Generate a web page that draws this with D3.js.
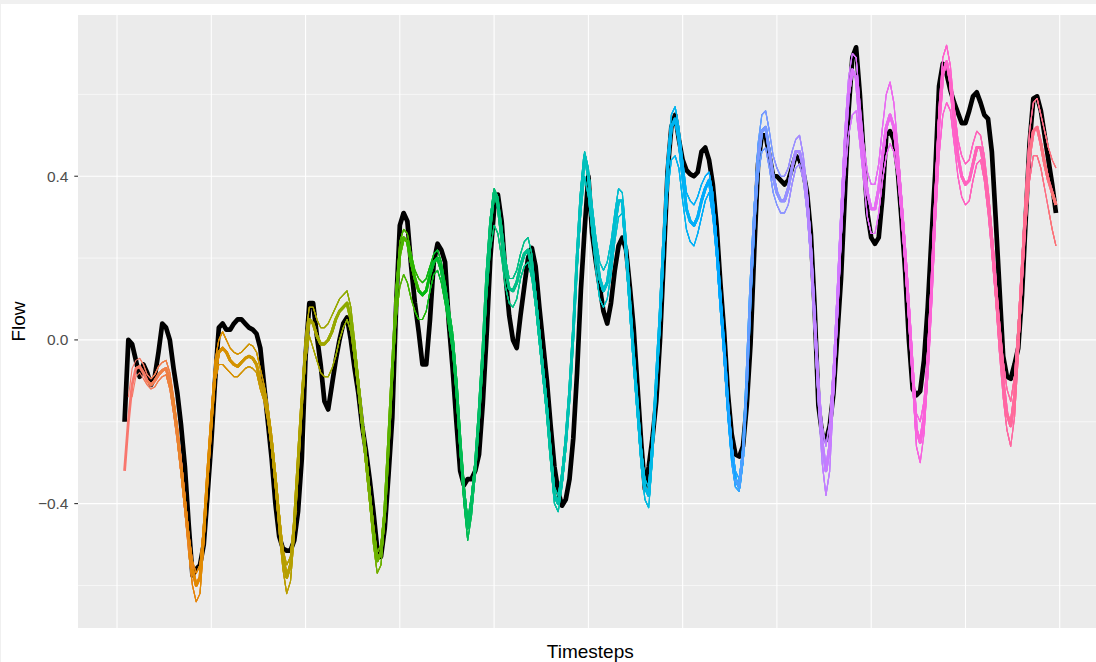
<!DOCTYPE html>
<html>
<head>
<meta charset="utf-8">
<script src="https://cdn.jsdelivr.net/npm/d3@7"></script>
<style>
  body { margin: 0; background: #ffffff; }
  svg { display: block; font-family: "Liberation Sans", Arial, sans-serif; }
</style>
</head>
<body>
<div id="chart"></div>
<script>
// observed flow, hourly timesteps 2..249 (rows of 12)
const firstStep = 2;
const observed = [
  -0.20, 0.00, -0.01, -0.05, -0.09, -0.06, -0.08, -0.11, -0.09, -0.03, 0.04, 0.03,
  0.00, -0.07, -0.13, -0.21, -0.31, -0.45, -0.575, -0.56, -0.55, -0.50, -0.38, -0.25,
  -0.10, 0.03, 0.04, 0.025, 0.025, 0.04, 0.05, 0.05, 0.04, 0.03, 0.025, 0.015,
  -0.02, -0.11, -0.20, -0.29, -0.40, -0.48, -0.51, -0.515, -0.515, -0.49, -0.42, -0.29,
  -0.04, 0.09, 0.09, 0.01, -0.06, -0.15, -0.17, -0.11, -0.05, 0.00, 0.04, 0.055,
  0.00, -0.07, -0.13, -0.21, -0.27, -0.34, -0.42, -0.51, -0.53, -0.46, -0.33, -0.19,
  0.08, 0.28, 0.31, 0.29, 0.18, 0.09, 0.02, -0.06, -0.06, 0.05, 0.19, 0.235,
  0.22, 0.19, 0.04, -0.07, -0.20, -0.32, -0.355, -0.34, -0.34, -0.32, -0.28, -0.155,
  0.01, 0.20, 0.32, 0.355, 0.29, 0.16, 0.06, 0.00, -0.02, 0.06, 0.13, 0.20,
  0.225, 0.18, 0.08, -0.01, -0.10, -0.21, -0.31, -0.37, -0.405, -0.39, -0.34, -0.24,
  -0.08, 0.12, 0.27, 0.40, 0.26, 0.19, 0.13, 0.07, 0.04, 0.09, 0.17, 0.23,
  0.25, 0.22, 0.13, 0.03, -0.11, -0.25, -0.365, -0.31, -0.24, -0.15, 0.00, 0.20,
  0.41, 0.52, 0.55, 0.49, 0.44, 0.415, 0.405, 0.40, 0.41, 0.46, 0.47, 0.44,
  0.38, 0.28, 0.14, 0.02, -0.13, -0.23, -0.28, -0.285, -0.26, -0.16, -0.01, 0.22,
  0.43, 0.50, 0.50, 0.45, 0.40, 0.40, 0.39, 0.38, 0.39, 0.42, 0.45, 0.44,
  0.41, 0.36, 0.26, 0.08, -0.16, -0.23, -0.245, -0.21, -0.13, 0.01, 0.15, 0.35,
  0.56, 0.69, 0.715, 0.60, 0.45, 0.31, 0.25, 0.235, 0.25, 0.35, 0.50, 0.51,
  0.49, 0.42, 0.30, 0.17, 0.00, -0.12, -0.135, -0.125, -0.05, 0.08, 0.25, 0.41,
  0.62, 0.675, 0.65, 0.61, 0.58, 0.555, 0.53, 0.53, 0.56, 0.595, 0.605, 0.58,
  0.55, 0.54, 0.46, 0.30, 0.13, -0.04, -0.09, -0.095, -0.06, -0.02, 0.11, 0.30,
  0.48, 0.59, 0.595, 0.56, 0.50, 0.44, 0.38, 0.31
];

// forecast bundle: centre, upper and lower strands
const forecastMid = [
  -0.32, -0.20, -0.11, -0.07, -0.065, -0.08, -0.10, -0.11, -0.10, -0.085, -0.075, -0.07,
  -0.10, -0.16, -0.23, -0.31, -0.40, -0.49, -0.56, -0.60, -0.58, -0.47, -0.33, -0.20,
  -0.08, -0.03, -0.02, -0.03, -0.05, -0.06, -0.065, -0.055, -0.045, -0.04, -0.045, -0.06,
  -0.10, -0.13, -0.18, -0.25, -0.34, -0.44, -0.53, -0.58, -0.55, -0.45, -0.30, -0.15,
  -0.02, 0.05, 0.04, 0.01, -0.01, -0.01, 0.00, 0.02, 0.05, 0.07, 0.08, 0.09,
  0.05, -0.03, -0.11, -0.20, -0.29, -0.38, -0.47, -0.54, -0.52, -0.42, -0.25, -0.07,
  0.10, 0.21, 0.25, 0.24, 0.19, 0.15, 0.12, 0.11, 0.12, 0.16, 0.19, 0.20,
  0.17, 0.12, 0.06, 0.00, -0.11, -0.25, -0.37, -0.46, -0.40, -0.31, -0.18, -0.03,
  0.15, 0.28, 0.36, 0.33, 0.25, 0.17, 0.125, 0.12, 0.14, 0.18, 0.21, 0.22,
  0.18, 0.10, 0.01, -0.08, -0.17, -0.28, -0.38, -0.40, -0.34, -0.25, -0.13, 0.02,
  0.20, 0.35, 0.45, 0.40, 0.30, 0.22, 0.15, 0.12, 0.14, 0.20, 0.28, 0.34,
  0.34, 0.22, 0.09, -0.04, -0.16, -0.28, -0.36, -0.38, -0.26, -0.10, 0.06, 0.25,
  0.42, 0.52, 0.54, 0.49, 0.40, 0.32, 0.29, 0.28, 0.30, 0.34, 0.37, 0.39,
  0.33, 0.23, 0.10, -0.02, -0.16, -0.27, -0.34, -0.36, -0.28, -0.10, 0.12, 0.30,
  0.44, 0.51, 0.52, 0.46, 0.40, 0.36, 0.34, 0.34, 0.37, 0.42, 0.46, 0.46,
  0.42, 0.34, 0.22, 0.05, -0.12, -0.25, -0.32, -0.26, -0.10, 0.08, 0.28, 0.47,
  0.60, 0.66, 0.64, 0.53, 0.43, 0.36, 0.32, 0.32, 0.37, 0.45, 0.52, 0.55,
  0.52, 0.44, 0.33, 0.21, 0.07, -0.08, -0.22, -0.25, -0.19, -0.06, 0.12, 0.33,
  0.53, 0.65, 0.68, 0.63, 0.53, 0.45, 0.40, 0.38, 0.39, 0.43, 0.47, 0.47,
  0.42, 0.34, 0.24, 0.13, 0.01, -0.10, -0.18, -0.21, -0.14, 0.00, 0.17, 0.33,
  0.45, 0.51, 0.52, 0.48, 0.43, 0.39, 0.36, 0.33
];
const forecastHigh = [
  -0.32, -0.14, -0.07, -0.05, -0.045, -0.06, -0.085, -0.095, -0.085, -0.065, -0.055, -0.05,
  -0.08, -0.14, -0.21, -0.29, -0.38, -0.47, -0.54, -0.57, -0.55, -0.45, -0.31, -0.18,
  -0.05, 0.00, 0.02, 0.00, -0.02, -0.03, -0.035, -0.03, -0.02, -0.01, -0.015, -0.03,
  -0.07, -0.11, -0.16, -0.23, -0.32, -0.42, -0.51, -0.55, -0.53, -0.43, -0.28, -0.13,
  0.01, 0.08, 0.08, 0.05, 0.03, 0.03, 0.04, 0.06, 0.08, 0.10, 0.11, 0.12,
  0.08, 0.00, -0.09, -0.18, -0.27, -0.36, -0.45, -0.52, -0.50, -0.40, -0.23, -0.05,
  0.13, 0.24, 0.27, 0.26, 0.21, 0.17, 0.15, 0.14, 0.15, 0.18, 0.21, 0.22,
  0.19, 0.14, 0.08, 0.02, -0.09, -0.23, -0.35, -0.44, -0.38, -0.29, -0.16, -0.01,
  0.17, 0.30, 0.37, 0.35, 0.28, 0.20, 0.15, 0.15, 0.17, 0.21, 0.24, 0.25,
  0.21, 0.12, 0.03, -0.06, -0.15, -0.26, -0.36, -0.38, -0.32, -0.23, -0.11, 0.04,
  0.22, 0.37, 0.46, 0.42, 0.33, 0.25, 0.19, 0.17, 0.19, 0.24, 0.31, 0.37,
  0.36, 0.24, 0.11, -0.02, -0.14, -0.26, -0.34, -0.36, -0.24, -0.08, 0.08, 0.27,
  0.45, 0.55, 0.57, 0.52, 0.44, 0.36, 0.34, 0.33, 0.35, 0.38, 0.40, 0.41,
  0.36, 0.25, 0.12, 0.00, -0.14, -0.25, -0.32, -0.34, -0.26, -0.08, 0.14, 0.33,
  0.48, 0.55, 0.56, 0.51, 0.45, 0.42, 0.40, 0.40, 0.42, 0.46, 0.49, 0.50,
  0.45, 0.37, 0.25, 0.08, -0.09, -0.21, -0.26, -0.20, -0.06, 0.12, 0.32, 0.51,
  0.64, 0.70, 0.69, 0.58, 0.48, 0.41, 0.38, 0.38, 0.43, 0.52, 0.60, 0.63,
  0.58, 0.48, 0.36, 0.24, 0.10, -0.05, -0.18, -0.20, -0.15, -0.03, 0.15, 0.37,
  0.57, 0.69, 0.72, 0.67, 0.57, 0.49, 0.45, 0.43, 0.44, 0.48, 0.51, 0.50,
  0.45, 0.37, 0.27, 0.16, 0.05, -0.05, -0.12, -0.15, -0.09, 0.04, 0.20, 0.37,
  0.51, 0.58, 0.59, 0.55, 0.51, 0.47, 0.44, 0.42
];
const forecastLow = [
  -0.32, -0.24, -0.14, -0.09, -0.08, -0.095, -0.11, -0.12, -0.115, -0.10, -0.09, -0.085,
  -0.12, -0.18, -0.25, -0.33, -0.42, -0.52, -0.60, -0.64, -0.62, -0.50, -0.35, -0.22,
  -0.10, -0.06, -0.06, -0.07, -0.08, -0.09, -0.09, -0.08, -0.07, -0.065, -0.07, -0.08,
  -0.12, -0.15, -0.20, -0.27, -0.36, -0.47, -0.56, -0.62, -0.59, -0.48, -0.32, -0.17,
  -0.05, 0.01, -0.02, -0.05, -0.08, -0.09, -0.09, -0.07, -0.04, 0.00, 0.03, 0.05,
  0.02, -0.05, -0.13, -0.22, -0.31, -0.40, -0.50, -0.57, -0.55, -0.44, -0.27, -0.10,
  0.05, 0.13, 0.16, 0.14, 0.10, 0.07, 0.05, 0.05, 0.07, 0.12, 0.16, 0.17,
  0.14, 0.09, 0.03, -0.03, -0.14, -0.28, -0.40, -0.49, -0.43, -0.33, -0.20, -0.06,
  0.10, 0.22, 0.28, 0.26, 0.20, 0.13, 0.09, 0.08, 0.10, 0.15, 0.18, 0.19,
  0.15, 0.08, -0.01, -0.10, -0.19, -0.30, -0.40, -0.42, -0.36, -0.27, -0.15, 0.00,
  0.17, 0.31, 0.40, 0.35, 0.26, 0.17, 0.10, 0.08, 0.10, 0.16, 0.24, 0.30,
  0.31, 0.19, 0.06, -0.07, -0.19, -0.31, -0.39, -0.41, -0.29, -0.12, 0.03, 0.21,
  0.36, 0.44, 0.45, 0.42, 0.34, 0.27, 0.24, 0.23, 0.26, 0.30, 0.34, 0.36,
  0.30, 0.20, 0.07, -0.05, -0.19, -0.30, -0.36, -0.37, -0.30, -0.12, 0.09, 0.26,
  0.40, 0.46, 0.47, 0.42, 0.36, 0.33, 0.31, 0.31, 0.33, 0.38, 0.42, 0.43,
  0.39, 0.31, 0.19, 0.02, -0.16, -0.30, -0.38, -0.32, -0.14, 0.04, 0.24, 0.40,
  0.50, 0.55, 0.56, 0.48, 0.39, 0.30, 0.26, 0.26, 0.31, 0.39, 0.45, 0.48,
  0.46, 0.40, 0.30, 0.18, 0.04, -0.11, -0.26, -0.30, -0.23, -0.09, 0.09, 0.28,
  0.45, 0.55, 0.58, 0.56, 0.48, 0.40, 0.35, 0.33, 0.34, 0.39, 0.43, 0.44,
  0.39, 0.31, 0.21, 0.10, -0.03, -0.14, -0.22, -0.26, -0.19, -0.04, 0.13, 0.28,
  0.39, 0.45, 0.45, 0.42, 0.37, 0.32, 0.27, 0.23
];

const horizon = 12;               // steps per forecast run
const yBreaks = [-0.4, 0, 0.4];
const yLabels = ["\u22120.4", "0.0", "0.4"];
const yMinorBreaks = [-0.6, -0.2, 0.2, 0.6];
const xBreaks = [0, 50, 100, 150, 200, 250];
const xMinorBreaks = [25, 75, 125, 175, 225];

// R / ggplot hcl() -> hex (polar LUV)
function hclHex(h, c, l) {
  const hr = h * Math.PI / 180;
  const U = c * Math.cos(hr), V = c * Math.sin(hr);
  const Xn = 95.047, Yn = 100, Zn = 108.883;
  const den = Xn + 15 * Yn + 3 * Zn;
  const un = 4 * Xn / den, vn = 9 * Yn / den;
  const Y = Yn * (l > 8 ? Math.pow((l + 16) / 116, 3) : l / 903.3);
  const u = U / (13 * l) + un, v = V / (13 * l) + vn;
  const X = 9 * Y * u / (4 * v);
  const Z = -X / 3 - 5 * Y + 3 * Y / v;
  const lin = [
    ( 3.240479 * X - 1.537150 * Y - 0.498535 * Z) / 100,
    (-0.969256 * X + 1.875992 * Y + 0.041556 * Z) / 100,
    ( 0.055648 * X - 0.204043 * Y + 1.057311 * Z) / 100
  ];
  const g = lin.map(x => {
    const s = x <= 0.0031308 ? 12.92 * x : 1.055 * Math.pow(x, 1 / 2.4) - 0.055;
    return Math.round(255 * Math.max(0, Math.min(1, s)));
  });
  return d3.rgb(g[0], g[1], g[2]).formatHex();
}

const width = 1096, height = 662;
const panel = {left: 78, top: 15, bottom: 628};

const nSteps = observed.length;
const lastStep = firstStep + nSteps - 1;
const pad = 0.05 * (lastStep - firstStep);
const pxPerStep = 3.7708;

const x = d3.scaleLinear()
    .domain([firstStep - pad, lastStep + pad])
    .range([panel.left, panel.left + (lastStep - firstStep + 2 * pad) * pxPerStep]);

const y = d3.scaleLinear()
    .domain([-0.704, 0.794])
    .range([panel.bottom, panel.top]);

const svg = d3.select("#chart").append("svg")
    .attr("width", width)
    .attr("height", height);

// screenshot edge strip
svg.append("rect").attr("x", 0).attr("y", 0).attr("width", width).attr("height", 4).attr("fill", "#f0f0f0");
svg.append("rect").attr("x", 0).attr("y", 0).attr("width", 1).attr("height", height).attr("fill", "#f0f0f0");

svg.append("rect")
    .attr("x", panel.left)
    .attr("y", panel.top)
    .attr("width", x.range()[1] - panel.left)
    .attr("height", panel.bottom - panel.top)
    .attr("fill", "#ebebeb");

const grid = svg.append("g");
grid.selectAll(".ymin").data(yMinorBreaks).enter().append("line")
    .attr("x1", panel.left).attr("x2", x.range()[1])
    .attr("y1", d => y(d)).attr("y2", d => y(d))
    .attr("stroke", "#ffffff").attr("stroke-width", 0.6);
grid.selectAll(".xmin").data(xMinorBreaks).enter().append("line")
    .attr("y1", panel.top).attr("y2", panel.bottom)
    .attr("x1", d => x(d)).attr("x2", d => x(d))
    .attr("stroke", "#ffffff").attr("stroke-width", 1);
grid.selectAll(".ymaj").data(yBreaks).enter().append("line")
    .attr("x1", panel.left).attr("x2", x.range()[1])
    .attr("y1", d => y(d)).attr("y2", d => y(d))
    .attr("stroke", "#ffffff").attr("stroke-width", 1.1);
grid.selectAll(".xmaj").data(xBreaks).enter().append("line")
    .attr("y1", panel.top).attr("y2", panel.bottom)
    .attr("x1", d => x(d)).attr("x2", d => x(d))
    .attr("stroke", "#ffffff").attr("stroke-width", 1.1);

const line = d3.line()
    .x(d => x(d.t))
    .y(d => y(d.v));

const obsPoints = observed.map((v, i) => ({t: firstStep + i, v: v}));

svg.append("path")
    .datum(obsPoints)
    .attr("d", line)
    .attr("fill", "none")
    .attr("stroke", "#000000")
    .attr("stroke-width", 4.7)
    .attr("stroke-linejoin", "round");

// rolling forecasts: one run per start step, coloured with the ggplot hue palette
const strands = [forecastMid, forecastHigh, forecastLow];
const strandWidth = [2.8, 1.1, 1.1];
const runs = [];
for (let k = 0; k < nSteps - 1; k++) {
  const src = strands[k % strands.length];
  const pts = [];
  for (let j = k; j < Math.min(k + horizon, nSteps); j++) {
    pts.push({t: firstStep + j, v: src[j]});
  }
  runs.push(pts);
}
const nRuns = runs.length;
const hue = d3.scaleLinear().domain([0, nRuns]).range([15, 375]);

svg.append("g").selectAll("path")
    .data(runs)
    .enter()
    .append("path")
    .attr("d", line)
    .attr("fill", "none")
    .attr("stroke", (d, i) => hclHex(hue(i) % 360, 100, 65))
    .attr("stroke-width", (d, i) => strandWidth[i % strands.length])
    .attr("stroke-linejoin", "round");

// y axis
const yAxis = svg.append("g");
yAxis.selectAll("line").data(yBreaks).enter().append("line")
    .attr("x1", panel.left - 3.7).attr("x2", panel.left)
    .attr("y1", d => y(d)).attr("y2", d => y(d))
    .attr("stroke", "#333333").attr("stroke-width", 1.1);
yAxis.selectAll("text").data(yBreaks).enter().append("text")
    .attr("x", panel.left - 9.5)
    .attr("y", d => y(d))
    .attr("dy", "0.36em")
    .attr("text-anchor", "end")
    .attr("font-size", 15.5)
    .attr("fill", "#4d4d4d")
    .text((d, i) => yLabels[i]);

svg.append("text")
    .attr("transform", `translate(25, ${(panel.top + panel.bottom) / 2}) rotate(-90)`)
    .attr("text-anchor", "middle")
    .attr("font-size", 19)
    .attr("fill", "#000000")
    .text("Flow");

svg.append("text")
    .attr("x", (panel.left + x.range()[1]) / 2)
    .attr("y", 658)
    .attr("text-anchor", "middle")
    .attr("font-size", 19)
    .attr("fill", "#000000")
    .text("Timesteps");
</script>
</body>
</html>
